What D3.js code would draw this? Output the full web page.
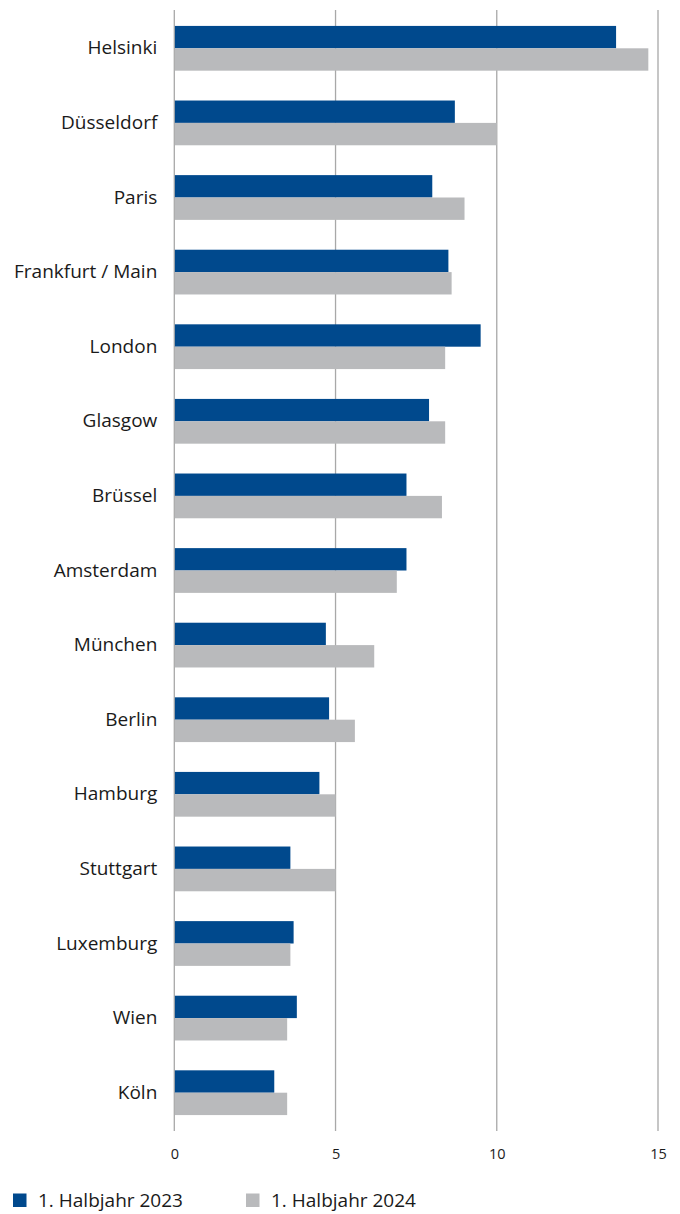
<!DOCTYPE html>
<html>
<head>
<meta charset="utf-8">
<script src="https://cdn.jsdelivr.net/npm/d3@7"></script>
<style>
  body { margin: 0; background: #fff; }
  svg { display: block; }
</style>
</head>
<body>
<div id="chart"></div>
<script>
// Daten
const cities = ["Helsinki", "Düsseldorf", "Paris", "Frankfurt / Main", "London", "Glasgow", "Brüssel",
  "Amsterdam", "München", "Berlin", "Hamburg", "Stuttgart", "Luxemburg", "Wien", "Köln"];
const h2023 = [13.7, 8.7, 8.0, 8.5, 9.5, 7.9, 7.2, 7.2, 4.7, 4.8, 4.5, 3.6, 3.7, 3.8, 3.1];
const h2024 = [14.7, 10.0, 9.0, 8.6, 8.4, 8.4, 8.3, 6.9, 6.2, 5.6, 5.0, 5.0, 3.6, 3.5, 3.5];
const seriesNames = ["1. Halbjahr 2023", "1. Halbjahr 2024"];
const xTicks = [0, 5, 10, 15];

const colors = ["#00498d", "#b9babc"];
const font = "'Open Sans', 'Noto Sans', sans-serif";

const width = 680, height = 1214;
const margin = { top: 11, right: 22, bottom: 84, left: 174.3 };
const h = height - margin.top - margin.bottom;

const svg = d3.select("#chart").append("svg")
  .attr("width", width)
  .attr("height", height);

const g = svg.append("g")
  .attr("transform", `translate(${margin.left},${margin.top})`);

// 15 Einheiten = 483,7 px
const x = d3.scaleLinear().domain([0, 15]).range([0, 483.7]);
const y = d3.scaleBand().domain(cities).range([0, h]).paddingInner(0.4).paddingOuter(0.2);
const y1 = d3.scaleBand().domain([0, 1]).range([0, y.bandwidth()]);

// Gitterlinien
g.append("g")
  .selectAll("line")
  .data(xTicks)
  .join("line")
  .attr("x1", d => x(d))
  .attr("x2", d => x(d))
  .attr("y1", -1)
  .attr("y2", h + 1)
  .attr("stroke", "#a8a8a8")
  .attr("stroke-width", 1.3);

// Balken
const rows = cities.map((c, i) => ({ city: c, vals: [h2023[i], h2024[i]] }));
const grp = g.selectAll(".row")
  .data(rows)
  .join("g")
  .attr("class", "row")
  .attr("transform", d => `translate(0,${y(d.city)})`);

grp.selectAll("rect")
  .data(d => d.vals.map((v, k) => ({ v, k })))
  .join("rect")
  .attr("x", x(0) + 0.6)
  .attr("y", d => y1(d.k))
  .attr("height", y1.bandwidth())
  .attr("width", d => x(d.v) - x(0) - 0.6)
  .attr("fill", d => colors[d.k]);

// Kategorie-Beschriftung
g.append("g")
  .call(d3.axisLeft(y).tickSize(0).tickPadding(17))
  .call(a => a.select(".domain").remove())
  .selectAll("text")
  .style("font-family", font)
  .style("font-size", "19px")
  .style("fill", "#1a1a1a");

// X-Achse
g.append("g")
  .attr("transform", `translate(0,${h})`)
  .call(d3.axisBottom(x).tickValues(xTicks).tickSize(0).tickPadding(19))
  .call(a => a.select(".domain").remove())
  .selectAll("text")
  .style("font-family", font)
  .style("font-size", "14.5px")
  .style("fill", "#1a1a1a");

// Legende
const legendX = [13, 246];
const legend = svg.append("g")
  .attr("transform", `translate(0,${height - 7})`);
const li = legend.selectAll("g")
  .data(seriesNames)
  .join("g")
  .attr("transform", (d, i) => `translate(${legendX[i]},0)`);
li.append("rect")
  .attr("x", 0)
  .attr("y", -13.5)
  .attr("width", 13.5)
  .attr("height", 13.5)
  .attr("fill", (d, i) => colors[i]);
li.append("text")
  .attr("x", 25)
  .attr("y", 0)
  .text(d => d)
  .style("font-family", font)
  .style("font-size", "19px")
  .style("fill", "#1a1a1a");
</script>
</body>
</html>
